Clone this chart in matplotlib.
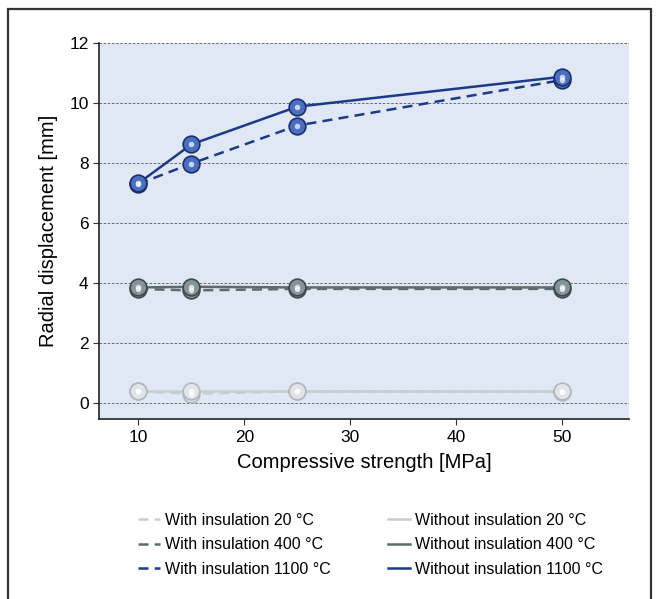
import numpy as np
import matplotlib
matplotlib.use("Agg")
import matplotlib.pyplot as plt
from matplotlib.patches import Rectangle

# Data
strength = [10, 15, 25, 50]
with_20 = [0.38, 0.30, 0.38, 0.37]
with_400 = [3.80, 3.75, 3.80, 3.80]
with_1100 = [7.30, 7.98, 9.25, 10.77]
without_20 = [0.40, 0.40, 0.40, 0.40]
without_400 = [3.85, 3.87, 3.85, 3.85]
without_1100 = [7.32, 8.62, 9.88, 10.88]

series_labels = ["With insulation 20 °C", "With insulation 400 °C", "With insulation 1100 °C",
                 "Without insulation 20 °C", "Without insulation 400 °C", "Without insulation 1100 °C"]
xticks = [10, 20, 30, 40, 50]
yticks = [0, 2, 4, 6, 8, 10, 12]

plt.rcParams["font.family"] = ["Liberation Sans", "DejaVu Sans"]

fig = plt.figure(figsize=(6.56, 5.99), dpi=100)
fig.patch.set_facecolor("white")
ax = fig.add_axes([0.151, 0.300, 0.808, 0.628])
ax.set_facecolor("#dfe8f4")

c20 = "#c9cdd2"
c400 = "#5c6b6e"
c1100 = "#1d3a8a"
m20 = ("#e2e5e8", "#b3b7bc")
m400 = ("#84959a", "#3e4a4d")
m1100 = ("#4a6fc0", "#1a2f70")

series = [
    (with_20, c20, "--", m20),
    (with_400, c400, "--", m400),
    (with_1100, c1100, "--", m1100),
    (without_20, c20, "-", m20),
    (without_400, c400, "-", m400),
    (without_1100, c1100, "-", m1100),
]

handles = []
for (y, col, ls, (mf, me)), lab in zip(series, series_labels):
    h, = ax.plot(strength, y, color=col, ls=ls, lw=1.8,
                 dashes=(4, 2.5) if ls == "--" else (None, None), zorder=3)
    ax.plot(strength, y, ls="none", marker="o", ms=12, mfc=mf, mec=me, mew=1.2, zorder=4)
    ax.plot(strength, y, ls="none", marker="o", ms=4, mfc="white", mec="none", alpha=0.7, zorder=5)
    handles.append(h)

ax.set_xlim(6.3, 56.3)
ax.set_ylim(-0.55, 12)
ax.set_xticks(xticks)
ax.set_yticks(yticks)
ax.tick_params(labelsize=12.5, length=4, color="#333333", direction="out")
ax.yaxis.grid(True, ls=(0, (3, 2)), lw=0.6, color="#555555")
ax.set_axisbelow(True)
for s in ["top", "right"]:
    ax.spines[s].set_visible(False)
for s in ["left", "bottom"]:
    ax.spines[s].set_color("#222222")
    ax.spines[s].set_linewidth(1.2)

ax.set_xlabel("Compressive strength [MPa]", fontsize=14.5, labelpad=6)
ax.set_ylabel("Radial displacement [mm]", fontsize=14.5, labelpad=8)

fig.legend(handles, series_labels, ncol=2, frameon=False, fontsize=11.5,
           loc="upper left", bbox_to_anchor=(0.188, 0.168), handlelength=1.4,
           handletextpad=0.3, columnspacing=3.6, labelspacing=0.6)

fig.patches.append(Rectangle((8 / 656, -0.02), 643 / 656, 1 - 9 / 599 + 0.02,
                             transform=fig.transFigure, fill=False, lw=1.6,
                             edgecolor="#333333", zorder=10))

fig.savefig("out.png", dpi=100)
